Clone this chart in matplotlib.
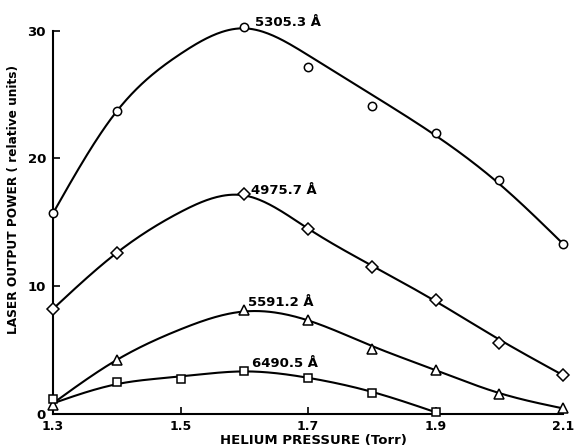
import numpy as np
import matplotlib
matplotlib.use("Agg")
import matplotlib.pyplot as plt

# ---- data ----
pressure = [1.3, 1.4, 1.5, 1.6, 1.7, 1.8, 1.9, 2.0, 2.1]

# measured points
x_5305 = [1.3, 1.4, 1.6, 1.7, 1.8, 1.9, 2.0, 2.1]
y_5305 = [15.7, 23.7, 30.3, 27.2, 24.1, 22.0, 18.3, 13.3]
x_4975 = [1.3, 1.4, 1.6, 1.7, 1.8, 1.9, 2.0, 2.1]
y_4975 = [8.2, 12.6, 17.2, 14.5, 11.5, 8.9, 5.5, 3.0]
x_5591 = [1.3, 1.4, 1.6, 1.7, 1.8, 1.9, 2.0, 2.1]
y_5591 = [0.7, 4.2, 8.1, 7.3, 5.05, 3.4, 1.5, 0.4]
x_6490 = [1.3, 1.4, 1.5, 1.6, 1.7, 1.8, 1.9]
y_6490 = [1.1, 2.5, 2.7, 3.3, 2.75, 1.6, 0.1]

# hand-drawn fitted curves, values read at each 0.1 Torr
curve_x = pressure
curve_5305 = [15.7, 23.7, 28.2, 30.2, 28.1, 25.0, 21.8, 18.0, 13.3]
curve_4975 = [8.2, 12.6, 15.8, 17.1, 14.5, 11.6, 8.8, 5.8, 3.0]
curve_5591 = [0.8, 4.2, 6.6, 8.0, 7.3, 5.3, 3.4, 1.6, 0.4]
curve_6490_x = [1.3, 1.4, 1.5, 1.6, 1.7, 1.8, 1.9]
curve_6490 = [0.8, 2.3, 2.9, 3.3, 2.8, 1.7, 0.1]

labels = ["5305.3 Å", "4975.7 Å", "5591.2 Å", "6490.5 Å"]
xticks = [1.3, 1.5, 1.7, 1.9, 2.1]
yticks = [0, 10, 20, 30]


def smooth(xs, ys, n=300):
    """Natural cubic spline through the read curve values."""
    x = np.asarray(xs, float)
    y = np.asarray(ys, float)
    m = len(x)
    h = np.diff(x)
    A = np.zeros((m, m))
    b = np.zeros(m)
    A[0, 0] = A[-1, -1] = 1
    for i in range(1, m - 1):
        A[i, i - 1] = h[i - 1]
        A[i, i] = 2 * (h[i - 1] + h[i])
        A[i, i + 1] = h[i]
        b[i] = 6 * ((y[i + 1] - y[i]) / h[i] - (y[i] - y[i - 1]) / h[i - 1])
    M = np.linalg.solve(A, b)
    xx = np.linspace(x[0], x[-1], n)
    idx = np.clip(np.searchsorted(x, xx) - 1, 0, m - 2)
    x0, x1 = x[idx], x[idx + 1]
    hh = x1 - x0
    t0 = x1 - xx
    t1 = xx - x0
    yy = (M[idx] * t0 ** 3 / (6 * hh) + M[idx + 1] * t1 ** 3 / (6 * hh)
          + (y[idx] / hh - M[idx] * hh / 6) * t0
          + (y[idx + 1] / hh - M[idx + 1] * hh / 6) * t1)
    return xx, yy


fig = plt.figure(figsize=(5.81, 4.48), dpi=100)
ax = fig.add_axes([0.0912, 0.077, 0.878, 0.854])

lw = 1.5
for cx, cy in [(curve_x, curve_5305), (curve_x, curve_4975),
               (curve_x, curve_5591), (curve_6490_x, curve_6490)]:
    sx, sy = smooth(cx, cy)
    ax.plot(sx, sy, color="black", lw=lw, clip_on=False, zorder=2)

mk = dict(color="black", mfc="white", mew=1.1, ls="none", clip_on=False, zorder=3)
ax.plot(x_5305, y_5305, marker="o", ms=6, **mk)
ax.plot(x_4975, y_4975, marker="D", ms=6, **mk)
ax.plot(x_5591, y_5591, marker="^", ms=7, **mk)
ax.plot(x_6490, y_6490, marker="s", ms=6.4, **mk)

fkw = dict(fontsize=9.5, fontweight="bold", family="DejaVu Sans")
label_pos = [(1.617, 30.4), (1.610, 17.2), (1.606, 8.44), (1.612, 3.66)]
for (lx, ly), txt in zip(label_pos, labels):
    ax.text(lx, ly, txt, ha="left", va="baseline", clip_on=False, **fkw)

ax.set_xlim(1.3, 2.1)
ax.set_ylim(0, 30)
ax.set_xticks(xticks)
ax.set_xticklabels([f"{v:.1f}" for v in xticks], fontsize=9,
                   fontweight="bold", family="DejaVu Sans")
ax.set_yticks(yticks)
ax.set_yticklabels([str(v) for v in yticks], **fkw)
ax.tick_params(axis="x", direction="in", length=5, width=1.2, pad=5)
ax.tick_params(axis="y", direction="in", length=5, width=1.2, pad=5)
for s in ["top", "right"]:
    ax.spines[s].set_visible(False)
for s in ["left", "bottom"]:
    ax.spines[s].set_linewidth(1.5)

ax.set_xlabel("HELIUM PRESSURE (Torr)", fontsize=9.5, fontweight="bold",
              family="DejaVu Sans", va="center")
ax.xaxis.set_label_coords(0.51, -0.071)
ax.set_ylabel("LASER OUTPUT POWER ( relative units)", fontsize=8.7,
              fontweight="bold", family="DejaVu Sans", va="center")
ax.yaxis.set_label_coords(-0.078, 0.56)

fig.savefig("out.png", dpi=100)
